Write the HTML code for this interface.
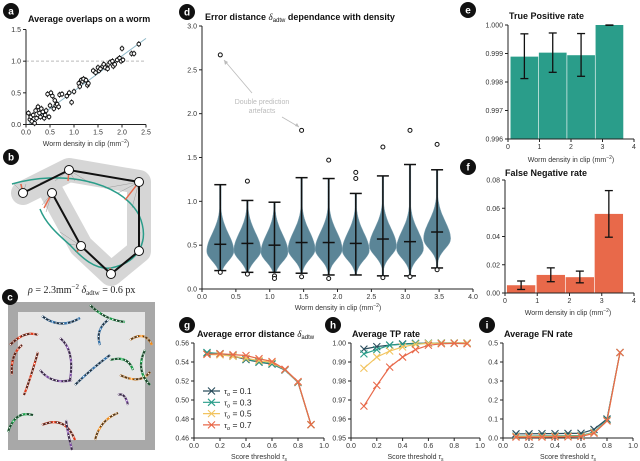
<!DOCTYPE html>
<html><head><meta charset="utf-8"><style>
html,body{margin:0;padding:0;background:#fff}
svg{display:block;font-family:"Liberation Sans",sans-serif}
.t{font-size:9px;font-weight:bold;fill:#111}
.tk{font-size:7px;fill:#333}
.lb{font-size:7px;fill:#333}
</style></head><body>
<svg id="fig" width="640" height="461" viewBox="0 0 640 461" xmlns="http://www.w3.org/2000/svg">
<g>
<path d="M23,193 L69,170 L139,182 L139,251 L111,274 L81,246 L52,193" fill="none" stroke="#d6d6d6" stroke-width="24" stroke-linejoin="round" stroke-linecap="round"/>
<g stroke="#9a9a9a" stroke-width="0.5">
<path d="M23,193 L14,184 M23,193 L20,184 M23,193 L26,184 M69,170 L40,183 M69,170 L55,181 M69,170 L75,181 M69,170 L90,183 M139,182 L105,188 M139,182 L118,193 M139,182 L125,200 M139,182 L132,208 M52,193 L42,205 M52,193 L46,212 M81,246 L60,232 M81,246 L70,244 M81,246 L75,252 M111,274 L100,266 M111,274 L118,267 M139,251 L143,238 M139,251 L140,232"/>
</g>
<path d="M12,184 C60,170 120,180 139,215 C150,240 140,262 111,268 C95,270 82,258 70,245 C55,232 45,222 40,209" fill="none" stroke="#2a9d8a" stroke-width="1.5"/>
<g stroke="#e8694a" stroke-width="1.4"><path d="M23,193 L21,184 M69,170 L68,181 M139,182 L125,200 M52,193 L44,208 M81,246 L77,252 M111,274 L110,268"/></g>
<path d="M23,193 L69,170 L139,182 L139,251 L111,274 L81,246 L52,193" fill="none" stroke="#111" stroke-width="2"/>
<g fill="#fff" stroke="#111" stroke-width="1"><circle cx="23" cy="193" r="4.5"/><circle cx="69" cy="170" r="4.5"/><circle cx="139" cy="182" r="4.5"/><circle cx="139" cy="251" r="4.5"/><circle cx="111" cy="274" r="4.5"/><circle cx="81" cy="246" r="4.5"/><circle cx="52" cy="193" r="4.5"/></g>
</g>
<g>
<text x="28" y="293" style="font-family:'Liberation Serif',serif;font-size:10px;fill:#222"><tspan font-style="italic">ρ</tspan> = 2.3mm<tspan dy="-4" font-size="7">−2</tspan><tspan dy="4">   </tspan><tspan font-style="italic">δ</tspan><tspan dy="2" font-size="7">adtw</tspan><tspan dy="-2"> = 0.6 px</tspan></text>
<rect x="8" y="302" width="147" height="148" fill="#a8a8a8"/>
<rect x="18" y="312" width="127" height="128" fill="#e6e6e6"/>
<g id="worms" fill="none" stroke-width="2"></g>
</g>
<g id="charts"></g>
</svg>
<script>
// ---------- DATA ----------
const aX=[0.05,0.08,0.1,0.12,0.15,0.18,0.2,0.22,0.25,0.28,0.3,0.32,0.35,0.38,0.4,0.42,0.45,0.48,0.5,0.52,0.55,0.58,0.6,0.62,0.65,0.68,0.7,0.75,0.85,0.9,0.95,1.0,1.1,1.12,1.15,1.18,1.2,1.25,1.28,1.3,1.4,1.45,1.5,1.52,1.55,1.6,1.62,1.65,1.7,1.72,1.75,1.8,1.82,1.85,1.9,1.95,1.98,2.0,2.02,2.2,2.25,2.35];
const aY=[0.18,0.08,0.12,0.05,0.15,0.02,0.22,0.1,0.28,0.18,0.12,0.25,0.2,0.1,0.15,0.22,0.48,0.12,0.3,0.5,0.45,0.25,0.38,0.3,0.32,0.28,0.47,0.48,0.45,0.5,0.35,0.52,0.65,0.6,0.7,0.68,0.72,0.7,0.62,0.65,0.85,0.82,0.9,0.85,0.88,0.92,0.95,0.9,0.88,0.95,0.98,1.0,0.92,0.95,1.02,1.05,1.0,1.2,1.02,1.12,1.12,1.27];
const aXTicks=[0,0.5,1,1.5,2,2.5];
const aYTicks=[0,0.5,1,1.5];
const dPos=[0.27,0.67,1.07,1.47,1.87,2.27,2.67,3.07,3.47];
const dMean=[0.51,0.52,0.50,0.53,0.53,0.52,0.57,0.54,0.65];
const dMax=[1.19,1.01,0.99,1.27,1.26,1.09,1.29,1.42,1.36];
const dMin=[0.21,0.19,0.19,0.18,0.16,0.16,0.15,0.15,0.24];
const dOutliers=[[2.67,0.19],[1.23,0.17],[0.15,0.12],[1.81,0.14],[1.47,0.12],[1.33,1.26],[1.62,0.13],[1.81,0.14],[1.65,0.22]];
const dXTicks=[0,0.5,1,1.5,2,2.5,3,3.5,4];
const dYTicks=[0,0.5,1,1.5,2,2.5,3];
const eCenters=[0.52,1.42,2.32,3.22];
const eVals=[0.99889,0.99903,0.99894,1.0];
const eLo=[0.99812,0.99834,0.99820,0.99999];
const eHi=[0.99969,0.99972,0.99970,1.0];
const eYTicks=[0.996,0.997,0.998,0.999,1.0];
const eYLabels=["0.996","0.997","0.998","0.999","1.000"];
const fCenters=[0.5,1.42,2.32,3.22];
const fVals=[0.0055,0.0128,0.0112,0.056];
const fLo=[0.0025,0.008,0.0072,0.0395];
const fHi=[0.0085,0.0178,0.0155,0.0725];
const fYTicks=[0,0.02,0.04,0.06,0.08];
const xTicks04=[0,1,2,3,4];
const thr=[0.1,0.2,0.3,0.4,0.5,0.6,0.7,0.8,0.9];
const seriesNames=["0.1","0.3","0.5","0.7"];
const gS01=[0.5495,0.5485,0.5462,0.5425,0.5398,0.5378,0.5315,0.5185,0.474];
const gS03=[0.5500,0.5488,0.5465,0.5430,0.5402,0.5382,0.5318,0.5188,0.474];
const gS05=[0.5480,0.5475,0.5460,0.5440,0.5415,0.5395,0.5320,0.5190,0.474];
const gS07=[0.5480,0.5487,0.5478,0.5468,0.5435,0.5405,0.5323,0.5194,0.4741];
const hS01=[0.9968,0.9981,0.9989,0.9995,0.9998,0.9999,1.0,1.0,1.0];
const hS03=[0.9943,0.9965,0.9989,0.9993,0.9997,0.9999,1.0,1.0,1.0];
const hS05=[0.9867,0.9926,0.9958,0.9979,0.9993,0.9998,0.9999,1.0,1.0];
const hS07=[0.9668,0.9777,0.9873,0.9926,0.9965,0.9988,0.9996,0.9998,0.9996];
const iS01=[0.022,0.022,0.023,0.023,0.024,0.025,0.045,0.10,0.45];
const iS03=[0.010,0.010,0.011,0.011,0.012,0.013,0.030,0.095,0.45];
const iS05=[0.008,0.008,0.008,0.009,0.009,0.010,0.028,0.090,0.45];
const iS07=[0.005,0.005,0.005,0.006,0.006,0.008,0.025,0.090,0.45];
const gYTicks=[0.46,0.48,0.50,0.52,0.54,0.56];
const hYTicks=[0.95,0.96,0.97,0.98,0.99,1.00];
const iYTicks=[0,0.1,0.2,0.3,0.4,0.5];
const thrTicks=[0,0.2,0.4,0.6,0.8,1.0];
const colors=["#2b4d5c","#2a9d8a","#f2c45f","#e8694a"];

// ---------- helpers ----------
const NS="http://www.w3.org/2000/svg";
const root=document.getElementById('charts');
function el(tag,attrs,parent,text){const e=document.createElementNS(NS,tag);for(const k in attrs)e.setAttribute(k,attrs[k]);if(text!==undefined)e.textContent=text;(parent||root).appendChild(e);return e;}
function lin(d0,d1,r0,r1){return v=>r0+(v-d0)/(d1-d0)*(r1-r0);}
function axes(g,x,y,xt,yt,xl,yl,x0,x1,y0,y1,name){
  const ax=el('g',{},g);
  
  
  el('line',{x1:x0,y1:y0,x2:x0,y2:y1,stroke:'#222','stroke-width':1},ax);
  el('line',{x1:x0,y1:y0,x2:x1,y2:y0,stroke:'#222','stroke-width':1},ax);
  xt.forEach((v,i)=>{const px=x(v);el('line',{x1:px,y1:y0,x2:px,y2:y0+3,stroke:'#222'},ax);
    const t=el('text',{x:px,y:y0+10,'text-anchor':'middle',class:'tk'},ax,xl?xl[i]:v.toFixed(1));
    
    });
  yt.forEach((v,i)=>{const py=y(v);el('line',{x1:x0-3,y1:py,x2:x0,y2:py,stroke:'#222'},ax);
    const t=el('text',{x:x0-5,y:py+2.5,'text-anchor':'end',class:'tk'},ax,yl?yl[i]:v.toFixed(1));
    
    });
}
function badge(cx,cy,letter){
  const g=el('g',{});
  
  
  el('circle',{cx:cx,cy:cy,r:8,fill:'#111'},g);
  el('text',{x:cx,y:cy+3.5,'text-anchor':'middle',style:'font-size:10px;font-weight:bold;fill:#fff'},g,letter);
}
function title(x,y,txt,name){const t=el('text',{x:x,y:y,class:'t'},root);t.innerHTML=txt;
  
  return t;}
function xlabel(x,y,txt){const t=el('text',{x:x,y:y,'text-anchor':'middle',class:'lb'},root);t.innerHTML=txt;
  
  }
const densLbl='Worm density in clip (mm<tspan dy="-3" font-size="5">−2</tspan><tspan dy="3">)</tspan>';

// ---------- panel a ----------
{const g=el('g',{});


const x=lin(0,2.5,26,146), y=lin(0,1.5,124.5,29.5);
el('line',{x1:x(0),y1:y(1),x2:x(2.5),y2:y(1),stroke:'#bbb','stroke-dasharray':'3,2'},g);
el('line',{x1:x(0.05),y1:y(0.0),x2:x(2.5),y2:y(1.36),stroke:'#8fb8c8','stroke-width':1},g);
axes(g,x,y,aXTicks,aYTicks,null,null,26,146,124.5,29.5,'panel-a');
aX.forEach((v,i)=>{const px=x(v),py=y(aY[i]);
  el('line',{x1:px,y1:py-3,x2:px,y2:py+3,stroke:'#111','stroke-width':0.8},g);
  const c=el('circle',{cx:px,cy:py,r:1.8,fill:'#fff',stroke:'#111','stroke-width':1},g);
  
  });
title(28,22,'Average overlaps on a worm','panel-a-title');
xlabel(86,146,densLbl);
badge(11,11,'a');}
badge(11,157,'b');badge(10,297,'c');

// ---------- panel d ----------
{const g=el('g',{});


const x=lin(0,4,202,473), y=lin(0,3,289,26);
axes(g,x,y,dXTicks,dYTicks,null,null,202,473,289,26,'panel-d');
dPos.forEach((p,i)=>{
  const cx=x(p),lo=dMin[i],hi=dMax[i],W=13.5,pk=dMean[i]-0.08;let L=[],R=[];
  for(let k=0;k<=40;k++){const v=lo+(hi-lo)*k/40;
    const s=v>=pk?0.2:0.11;
    const w=Math.max(0.8,W*Math.exp(-0.5*Math.pow((v-pk)/s,2)));
    L.push([cx-w,y(v)]);R.push([cx+w,y(v)]);}
  const pts=L.concat(R.reverse()).map(q=>q[0].toFixed(1)+','+q[1].toFixed(1)).join(' ');
  const v=el('polygon',{points:pts,fill:'#5b8597',stroke:'#7fa3b3','stroke-width':0.5},g);
  
  
  el('line',{x1:cx,y1:y(lo),x2:cx,y2:y(hi),stroke:'#111','stroke-width':1.5},g);
  [lo,hi,dMean[i]].forEach(val=>el('line',{x1:cx-6,y1:y(val),x2:cx+6,y2:y(val),stroke:'#111','stroke-width':1.5},g));
  dOutliers[i].forEach(o=>{const c=el('circle',{cx:cx,cy:y(o),r:2,fill:'#fff',stroke:'#111','stroke-width':1},g);
    
    });
});
el('line',{x1:252,y1:93,x2:224,y2:60,stroke:'#bbb','stroke-width':0.8},g);
el('path',{d:'M224,60 l1,5 l3,-3 z',fill:'#bbb'},g);
el('line',{x1:282,y1:117,x2:299,y2:127,stroke:'#bbb','stroke-width':0.8},g);
el('path',{d:'M299,127 l-4,-1 l2,-3 z',fill:'#bbb'},g);
const an=el('text',{x:262,y:104,'text-anchor':'middle',style:'font-size:7px;fill:#bbb'},g,'Double prediction');


el('text',{x:262,y:113,'text-anchor':'middle',style:'font-size:7px;fill:#bbb'},g,'artefacts');
title(205,20,'Error distance <tspan font-style="italic" font-weight="normal" style="font-family:\'Liberation Serif\',serif">δ</tspan><tspan dy="2" font-size="6" font-weight="normal">adtw</tspan><tspan dy="-2"> dependance with density</tspan>','panel-d-title');
xlabel(338,310,densLbl);
badge(187,12,'d');}

function bars(name,x,y,centers,vals,lo,hi,color,base,g){
  centers.forEach((c,i)=>{const x0=x(c-0.44),x1=x(c+0.44);
    const r=el('rect',{x:x0,y:y(vals[i]),width:x1-x0,height:y(base)-y(vals[i]),fill:color},g);
    
    
    const cx=x(c);
    el('line',{x1:cx,y1:y(lo[i]),x2:cx,y2:y(hi[i]),stroke:'#111','stroke-width':1.3},g);
    [lo[i],hi[i]].forEach(v=>el('line',{x1:cx-4,y1:y(v),x2:cx+4,y2:y(v),stroke:'#111','stroke-width':1.3},g));
  });}
{const g=el('g',{});


const x=lin(0,4,508,634), y=lin(0.996,1.0,139,25);
bars('tp',x,y,eCenters,eVals,eLo,eHi,'#2a9d8a',0.996,g);
axes(g,x,y,xTicks04,eYTicks,xTicks04.map(String),eYLabels,508,634,139,25,'panel-e');
title(509,19,'True Positive rate','panel-e-title');
xlabel(571,162,densLbl);
badge(468,10,'e');}
{const g=el('g',{});


const x=lin(0,4,505,634), y=lin(0,0.08,293,180);
bars('fn',x,y,fCenters,fVals,fLo,fHi,'#e8694a',0,g);
axes(g,x,y,xTicks04,fYTicks,xTicks04.map(String),fYTicks.map(v=>v.toFixed(2)),505,634,293,180,'panel-f');
title(505,176,'False Negative rate','panel-f-title');
xlabel(568,315,densLbl);
badge(468,167,'f');}

function linePanel(name,x0,x1,y0,y1,d0,d1,yt,ylab,series){
  const g=el('g',{});
  
  
  const x=lin(0,1,x0,x1), y=lin(d0,d1,y0,y1);
  axes(g,x,y,thrTicks,yt,null,ylab,x0,x1,y0,y1,name);
  series.forEach((s,k)=>{
    const p=el('polyline',{points:thr.map((t,i)=>x(t).toFixed(1)+','+y(s[i]).toFixed(1)).join(' '),fill:'none',stroke:colors[k],'stroke-width':1.2},g);
    
    
    thr.forEach((t,i)=>{const px=x(t),py=y(s[i]);
      el('path',{d:`M${px-3.5},${py-3.5}L${px+3.5},${py+3.5}M${px-3.5},${py+3.5}L${px+3.5},${py-3.5}`,stroke:colors[k],'stroke-width':1.1},g);});
  });
  xlabel((x0+x1)/2,459,'Score threshold <tspan font-style="italic">τ</tspan><tspan dy="2" font-size="5">s</tspan>');
}
linePanel('panel-g',194,324,438,343,0.46,0.56,gYTicks,gYTicks.map(v=>v.toFixed(2)),[gS01,gS03,gS05,gS07]);
linePanel('panel-h',351,480,438,343,0.95,1.00,hYTicks,hYTicks.map(v=>v.toFixed(2)),[hS01,hS03,hS05,hS07]);
linePanel('panel-i',503,633,438,343,0,0.5,iYTicks,iYTicks.map(v=>v.toFixed(1)),[iS01,iS03,iS05,iS07]);
seriesNames.forEach((n,k)=>{const yy=391+k*11.3;
  const lg=el('g',{});
  
  
  el('line',{x1:203,y1:yy,x2:220,y2:yy,stroke:colors[k],'stroke-width':1.2},lg);
  el('path',{d:`M208,${yy-3.5}L215,${yy+3.5}M208,${yy+3.5}L215,${yy-3.5}`,stroke:colors[k],'stroke-width':1.1},lg);
  const t=el('text',{x:224,y:yy+3,style:'font-size:8.5px;fill:#222'},lg);
  t.innerHTML='<tspan font-style="italic" style="font-family:\'Liberation Serif\',serif">τ</tspan><tspan dy="2" font-size="5.5" font-style="italic">o</tspan><tspan dy="-2"> = '+n+'</tspan>';
});
title(197,337,'Average error distance <tspan font-style="italic" font-weight="normal" style="font-family:\'Liberation Serif\',serif">δ</tspan><tspan dy="2" font-size="6" font-weight="normal">adtw</tspan>','panel-g-title');
title(352,337,'Average TP rate','panel-h-title');
title(504,337,'Average FN rate','panel-i-title');
badge(187,325,'g');badge(333,325,'h');badge(487,325,'i');

const worms=document.getElementById('worms');
const wormPaths=[["M42,316 Q60,330 80,318","#2f6fa8"],["M90,305 Q105,320 125,322","#1a9e4a"],["M108,320 Q95,330 100,345","#2f6fa8"],["M10,345 Q25,330 38,335","#e03a1a"],["M12,375 Q10,355 22,345","#e03a1a"],["M38,352 Q30,380 24,395","#e03a1a"],["M60,338 Q75,350 70,380","#7a4aa0"],["M72,380 Q52,385 40,370","#7a4aa0"],["M75,385 Q90,370 110,355","#2f6fa8"],["M110,360 Q128,355 133,370","#1a9e4a"],["M120,375 Q140,385 150,372","#f28c1a"],["M130,340 Q145,330 152,345","#f28c1a"],["M145,350 Q135,370 150,385","#1a9e4a"],["M8,432 Q15,410 33,415","#1a9e4a"],["M42,425 Q65,415 75,440","#e03a1a"],["M66,420 Q68,435 72,450","#7a4aa0"],["M95,440 Q100,420 118,413","#f28c1a"],["M118,395 Q125,392 128,405","#7a4aa0"]];
wormPaths.forEach(w=>{
  const p=el('path',{d:w[0],stroke:w[1],'stroke-width':2.2},worms);
  
  
  el('path',{d:w[0],stroke:'#222','stroke-width':1.6,opacity:0.8,'stroke-dasharray':'10,4'},worms);
  el('path',{d:w[0],stroke:'#fff','stroke-width':1.2,'stroke-dasharray':'1.2,2.6'},worms);
});
</script>
</body></html>
